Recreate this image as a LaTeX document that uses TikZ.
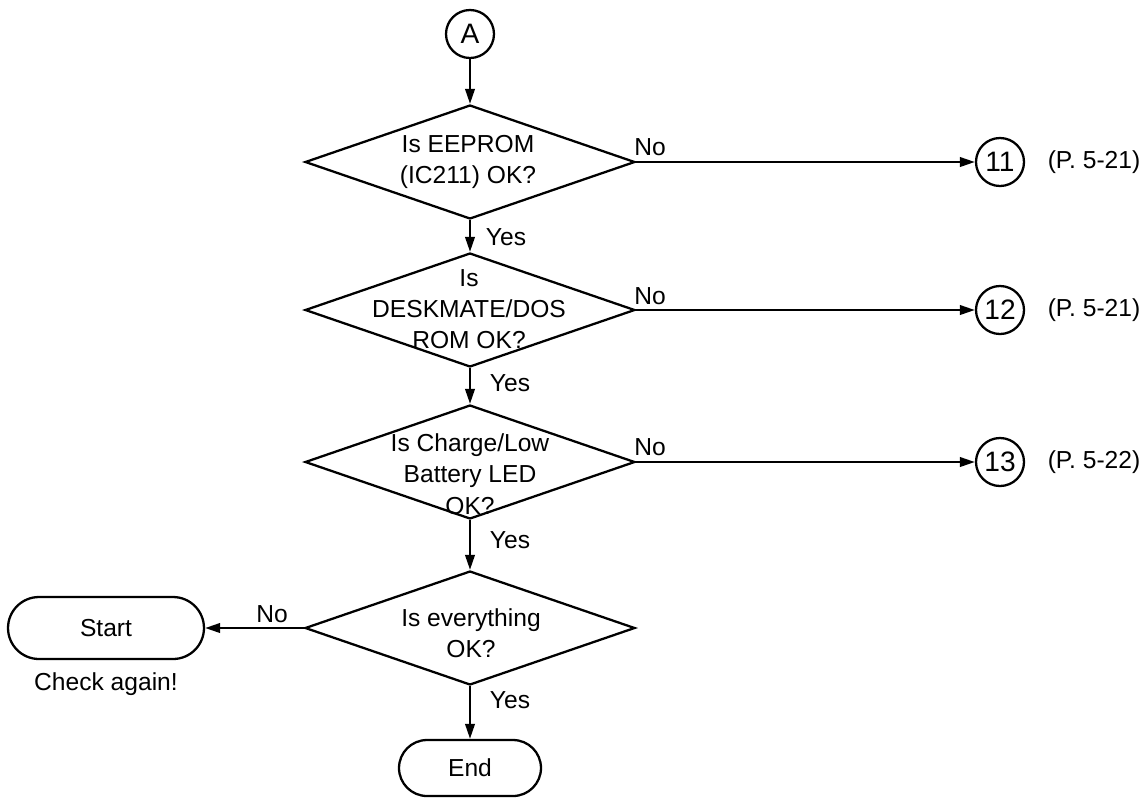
\documentclass[tikz,border=0pt]{standalone}
\usepackage{fontspec}
\setmainfont{Liberation Sans}
\usetikzlibrary{shapes.geometric,shapes.misc,arrows.meta}
\begin{document}
\begin{tikzpicture}[x=0.02cm,y=-0.02cm,
  every node/.style={font=\fontsize{14}{17.8}\selectfont},
  decision/.style={draw,line width=1.3pt,shape=diamond,inner sep=0pt,minimum width=6.6cm,minimum height=2.28cm},
  conn/.style={draw,line width=1.3pt,circle,minimum size=0.96cm,inner sep=0pt,font=\fontsize{16}{20}\selectfont},
  term/.style={draw,line width=1.3pt,rounded rectangle,inner sep=0pt},
  txt/.style={align=center,inner sep=0pt},
  flow/.style={line width=1.3pt,-{Triangle[length=0.3cm,width=0.19cm]}}
]
\useasboundingbox (0,0) rectangle (1140,799);

\node[conn] (A) at (470,34) {A};

\node[decision] (d1) at (470,162) {};
\node[txt] (d1t) at (468,162) {Is EEPROM\\(IC211) OK?};

\node[decision] (d2) at (470,310) {};
\node[txt] (d2t) at (469,309) {Is\\DESKMATE/DOS\\ROM OK?};

\node[decision] (d3) at (470,462) {};
\node[txt] (d3t) at (470,474) {Is Charge/Low\\Battery LED\\OK?};

\node[decision] (d4) at (470,628) {};
\node[txt] (d4t) at (471,633) {Is everything\\OK?};

\node[conn] (c11) at (1000,162) {11};
\node[conn] (c12) at (1000,310) {12};
\node[conn] (c13) at (1000,462) {13};

\node[txt] (p11) at (1094,162) {(P. 5-21)};
\node[txt] (p12) at (1094,310) {(P. 5-21)};
\node[txt] (p13) at (1094,462) {(P. 5-22)};

\node[term,minimum width=3.92cm,minimum height=1.24cm] (start) at (106,628) {Start};
\node[txt] (chk) at (106,684) {Check again!};

\node[term,minimum width=2.84cm,minimum height=1.12cm] (end) at (470,768) {End};

% connectors
\draw[flow] (A) -- (d1.north);
\draw[flow] (d1.south) -- (d2.north);
\draw[flow] (d2.south) -- (d3.north);
\draw[flow] (d3.south) -- (d4.north);
\draw[flow] (d4.south) -- (end.north);
\draw[flow] (d1.east) -- (c11.west);
\draw[flow] (d2.east) -- (c12.west);
\draw[flow] (d3.east) -- (c13.west);
\draw[flow] (d4.west) -- (start.east);

% labels
\node[txt] (n1) at (650,147) {No};
\node[txt] (n2) at (650,296) {No};
\node[txt] (n3) at (650,447) {No};
\node[txt] (n4) at (272,614) {No};
\node[txt] (y1) at (506,237) {Yes};
\node[txt] (y2) at (510,383) {Yes};
\node[txt] (y3) at (510,540) {Yes};
\node[txt] (y4) at (510,700) {Yes};
\end{tikzpicture}
\end{document}
